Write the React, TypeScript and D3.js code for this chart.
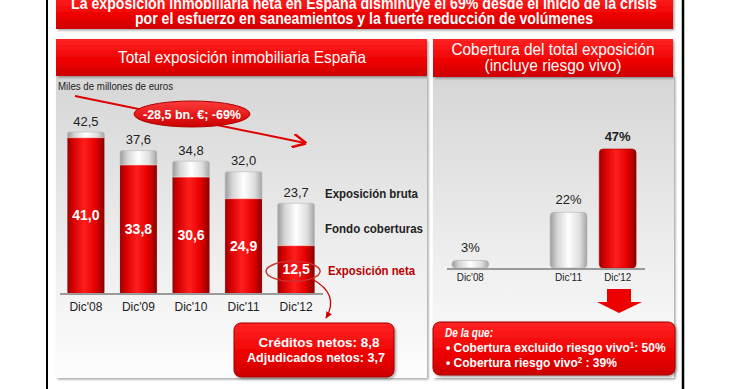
import React from "react";
import * as d3 from "d3";

const titleLines = [
  "La exposición inmobiliaria neta en España disminuye el 69% desde el inicio de la crisis",
  "por el esfuerzo en saneamientos y la fuerte reducción de volúmenes",
];
const leftTitle = "Total exposición inmobiliaria España";
const rightTitleLines = ["Cobertura del total exposición", "(incluye riesgo vivo)"];
const unitLabel = "Miles de millones de euros";
const leftCategories = ["Dic'08", "Dic'09", "Dic'10", "Dic'11", "Dic'12"];
const grossExposure = [42.5, 37.6, 34.8, 32.0, 23.7];
const netExposure = [41.0, 33.8, 30.6, 24.9, 12.5];
const legendLabels = ["Exposición bruta", "Fondo coberturas", "Exposición neta"];
const changeLabel = "-28,5 bn. €;  -69%";
const calloutLeft = ["Créditos netos: 8,8", "Adjudicados netos: 3,7"];
const rightSlots = ["Dic'08", "", "Dic'11", "Dic'12"];
const rightCategories = ["Dic'08", "Dic'11", "Dic'12"];
const coverage = [3, 22, 47];

const ARIAL = "'Liberation Sans', Arial, sans-serif";

const fmt = (v: number) => d3.format(".1f")(v).replace(".", ",");

type NTProps = {
  x: number; y: number; w: number; size: number; anchor?: string; bold?: boolean;
  italic?: boolean; fill?: string; children: React.ReactNode;
};
// condensed text: Arial-metric glyphs squeezed to the measured width
const NT = ({ x, y, w, size, anchor = "start", bold = false, italic = false, fill = "#fff", children }: NTProps) => (
  <text x={x} y={y} dy="0.35em" textAnchor={anchor as any} textLength={w} lengthAdjust="spacingAndGlyphs"
    fill={fill} fontFamily={ARIAL} fontSize={size} fontWeight={bold ? "bold" : "normal"}
    fontStyle={italic ? "italic" : "normal"}>{children}</text>
);

export default function App() {
  const W = 740, H = 389;
  const xL = d3.scaleBand<string>().domain(leftCategories).range([57, 325]).paddingInner(0.3).paddingOuter(0.2);
  const yL = d3.scaleLinear().domain([0, 42.5]).range([293, 132]);
  const xR = d3.scaleBand<string>().domain(rightSlots).range([447, 641]).paddingInner(0.25).paddingOuter(0.1);
  const yR = d3.scaleLinear().domain([0, 47]).range([268, 149]);
  const bw = xL.bandwidth();
  const bwR = xR.bandwidth();
  const last = leftCategories.length - 1;
  const lastCx = (xL(leftCategories[last]) as number) + bw / 2;
  const netMid = (yL(netExposure[last]) + yL(0)) / 2;

  return (
    <svg width={W} height={H} style={{ position: "absolute", left: 0, top: 0, background: "#fff" }}>
      <defs>
        <linearGradient id="bannerG" x1="0" y1="0" x2="0" y2="1">
          <stop offset="0" stopColor="#ff2323" />
          <stop offset="0.6" stopColor="#ee0000" />
          <stop offset="1" stopColor="#cc0000" />
        </linearGradient>
        <linearGradient id="panelG" x1="0" y1="0" x2="0" y2="1">
          <stop offset="0" stopColor="#d6d6d6" />
          <stop offset="0.55" stopColor="#ececec" />
          <stop offset="1" stopColor="#fdfdfd" />
        </linearGradient>
        <linearGradient id="redBar" x1="0" y1="0" x2="1" y2="0">
          <stop offset="0" stopColor="#9c0000" />
          <stop offset="0.15" stopColor="#d40000" />
          <stop offset="0.45" stopColor="#ff1e1e" />
          <stop offset="0.75" stopColor="#e60000" />
          <stop offset="1" stopColor="#8c0000" />
        </linearGradient>
        <linearGradient id="whiteBar" x1="0" y1="0" x2="1" y2="0">
          <stop offset="0" stopColor="#9c9c9c" />
          <stop offset="0.2" stopColor="#d6d6d6" />
          <stop offset="0.5" stopColor="#ffffff" />
          <stop offset="0.8" stopColor="#dedede" />
          <stop offset="1" stopColor="#a4a4a4" />
        </linearGradient>
        <linearGradient id="ovalG" x1="0" y1="0" x2="0" y2="1">
          <stop offset="0" stopColor="#ff3a3a" />
          <stop offset="1" stopColor="#cc0000" />
        </linearGradient>
        <filter id="shadow" x="-10%" y="-10%" width="130%" height="140%">
          <feDropShadow dx="1.5" dy="1.5" stdDeviation="1.2" floodColor="#000" floodOpacity="0.35" />
        </filter>
        <marker id="arrowOpen" viewBox="0 0 10 10" refX="9" refY="5" markerWidth="7" markerHeight="7" orient="auto">
          <path d="M0,0 L10,5 L0,10" fill="none" stroke="#e00000" strokeWidth="1.8" />
        </marker>
        <marker id="arrowSmall" viewBox="0 0 10 10" refX="8" refY="5" markerWidth="6" markerHeight="6" orient="auto">
          <path d="M0,1 L9,5 L0,9 z" fill="#d00000" />
        </marker>
      </defs>

      {/* frame */}
      <line x1={47} y1={0} x2={47} y2={H} stroke="#000" strokeWidth={2} />
      <line x1={683} y1={0} x2={683} y2={H} stroke="#000" strokeWidth={2.5} />

      {/* banner */}
      <rect x={56} y={-4} width={617} height={33} fill="url(#bannerG)" filter="url(#shadow)" />
      <NT x={364} y={3} w={586} size={16} anchor="middle" bold>{titleLines[0]}</NT>
      <NT x={364} y={18} w={458} size={16} anchor="middle" bold>{titleLines[1]}</NT>

      {/* panels */}
      <rect x={56} y={76} width={371} height={302} fill="url(#panelG)" filter="url(#shadow)" />
      <rect x={433} y={76} width={241} height={302} fill="url(#panelG)" filter="url(#shadow)" />
      <rect x={56} y={39} width={371} height={37} fill="url(#bannerG)" filter="url(#shadow)" />
      <rect x={433} y={39} width={240} height={38} fill="url(#bannerG)" filter="url(#shadow)" />
      <NT x={242} y={57} w={248} size={16.5} anchor="middle">{leftTitle}</NT>
      <NT x={553} y={49} w={203} size={16} anchor="middle">{rightTitleLines[0]}</NT>
      <NT x={553} y={65} w={137} size={16} anchor="middle">{rightTitleLines[1]}</NT>
      <NT x={58} y={86} w={115} size={10.5} fill="#222">{unitLabel}</NT>

      {/* trend arrow with oval */}
      <line x1={75} y1={96} x2={305} y2={143} stroke="#e00000" strokeWidth={2} markerEnd="url(#arrowOpen)" />
      <ellipse cx={192} cy={114} rx={58} ry={13} fill="url(#ovalG)" stroke="#b00000" strokeWidth={1} />
      <NT x={192} y={114} w={98} size={13.5} anchor="middle" bold>{changeLabel}</NT>

      {/* left bars */}
      {leftCategories.map((c, i) => {
        const x = xL(c) as number;
        const yG = yL(grossExposure[i]);
        const yN = yL(netExposure[i]);
        const y0 = yL(0);
        return (
          <g key={c}>
            <rect x={x} y={yG} width={bw} height={y0 - yG} rx={2} fill="url(#whiteBar)" stroke="#b8b8b8" strokeWidth={0.6} />
            <rect x={x} y={yN} width={bw} height={y0 - yN} fill="url(#redBar)" />
            <line x1={x} x2={x + bw} y1={yN} y2={yN} stroke="#ffffff" strokeOpacity={0.6} strokeWidth={0.8} />
            <text x={x + bw / 2} y={yG - 11} dy="0.35em" textAnchor="middle" fill="#222" fontFamily={ARIAL} fontSize={13}>{fmt(grossExposure[i])}</text>
            <text x={x + bw / 2} y={(yN + y0) / 2} dy="0.35em" textAnchor="middle" fill="#fff" fontFamily={ARIAL} fontWeight="bold" fontSize={14}>{fmt(netExposure[i])}</text>
            <text x={x + bw / 2} y={307} dy="0.35em" textAnchor="middle" fill="#222" fontFamily={ARIAL} fontSize={12}>{c}</text>
          </g>
        );
      })}
      <line x1={60} x2={323} y1={yL(0) + 1} y2={yL(0) + 1} stroke="#9a9a9a" strokeWidth={2} />

      {/* legend labels */}
      <NT x={325} y={yL(grossExposure[last]) - 10} w={93} size={13} bold fill="#222">{legendLabels[0]}</NT>
      <NT x={325} y={228} w={98} size={13} bold fill="#222">{legendLabels[1]}</NT>
      <NT x={328} y={netMid + 1.5} w={87} size={13} bold fill="#b80000">{legendLabels[2]}</NT>

      {/* highlight ellipse + curved arrow */}
      <ellipse cx={lastCx - 3} cy={netMid + 2} rx={27} ry={10} fill="none" stroke="#d03030" strokeWidth={1.5} />
      <path d="M 312 279 Q 340 294 326 318" fill="none" stroke="#d00000" strokeWidth={1.3} markerEnd="url(#arrowSmall)" />

      {/* left callout */}
      <rect x={234} y={323} width={160} height={54} rx={7} fill="url(#bannerG)" stroke="#a00000" strokeWidth={1} filter="url(#shadow)" />
      <NT x={319} y={342} w={121} size={13.5} anchor="middle" bold>{calloutLeft[0]}</NT>
      <NT x={316} y={357} w={138} size={13.5} anchor="middle" bold>{calloutLeft[1]}</NT>

      {/* right bars */}
      {rightCategories.map((c, i) => {
        const x = xR(c) as number;
        const y = yR(coverage[i]);
        const y0 = yR(0);
        const isLast = i === rightCategories.length - 1;
        return (
          <g key={c}>
            <rect x={x} y={y} width={bwR} height={y0 - y} rx={4} fill={isLast ? "url(#redBar)" : "url(#whiteBar)"}
              stroke={isLast ? "#b00000" : "#b0b0b0"} strokeWidth={0.6} />
            <text x={x + bwR / 2} y={y - 13} dy="0.35em" textAnchor="middle" fill="#222" fontFamily={ARIAL}
              fontWeight={isLast ? "bold" : "normal"} fontSize={13}>{coverage[i]}%</text>
            <text x={x + bwR / 2} y={277} dy="0.35em" textAnchor="middle" textLength={27} lengthAdjust="spacingAndGlyphs"
              fill="#222" fontFamily={ARIAL} fontSize={10.5}>{c}</text>
          </g>
        );
      })}
      <line x1={447} x2={645} y1={yR(0) + 1} y2={yR(0) + 1} stroke="#9a9a9a" strokeWidth={2} />

      {/* down arrow */}
      <path d="M 607 289 L 631 289 L 631 302 L 642 302 L 619 313 L 597 302 L 607 302 Z" fill="#ee0000" />

      {/* right callout */}
      <rect x={433} y={322} width={242} height={53} rx={7} fill="url(#bannerG)" stroke="#a00000" strokeWidth={1} filter="url(#shadow)" />
      <NT x={445} y={333} w={48} size={12} bold italic>De la que:</NT>
      <g transform="translate(446,347.5) scale(0.925,1)">
        <text x={0} y={0} dy="0.35em" fill="#fff" fontFamily={ARIAL} fontWeight="bold" fontSize={13}>
          <tspan fontSize={13}>•  Cobertura excluido riesgo vivo</tspan>
          <tspan fontSize={8.5} dy={-4.5}>1</tspan>
          <tspan fontSize={13} dy={4.5}>: 50%</tspan>
        </text>
      </g>
      <g transform="translate(446,362.5) scale(0.925,1)">
        <text x={0} y={0} dy="0.35em" fill="#fff" fontFamily={ARIAL} fontWeight="bold" fontSize={13}>
          <tspan fontSize={13}>•  Cobertura riesgo vivo</tspan>
          <tspan fontSize={8.5} dy={-4.5}>2</tspan>
          <tspan fontSize={13} dy={4.5}> : 39%</tspan>
        </text>
      </g>
    </svg>
  );
}
